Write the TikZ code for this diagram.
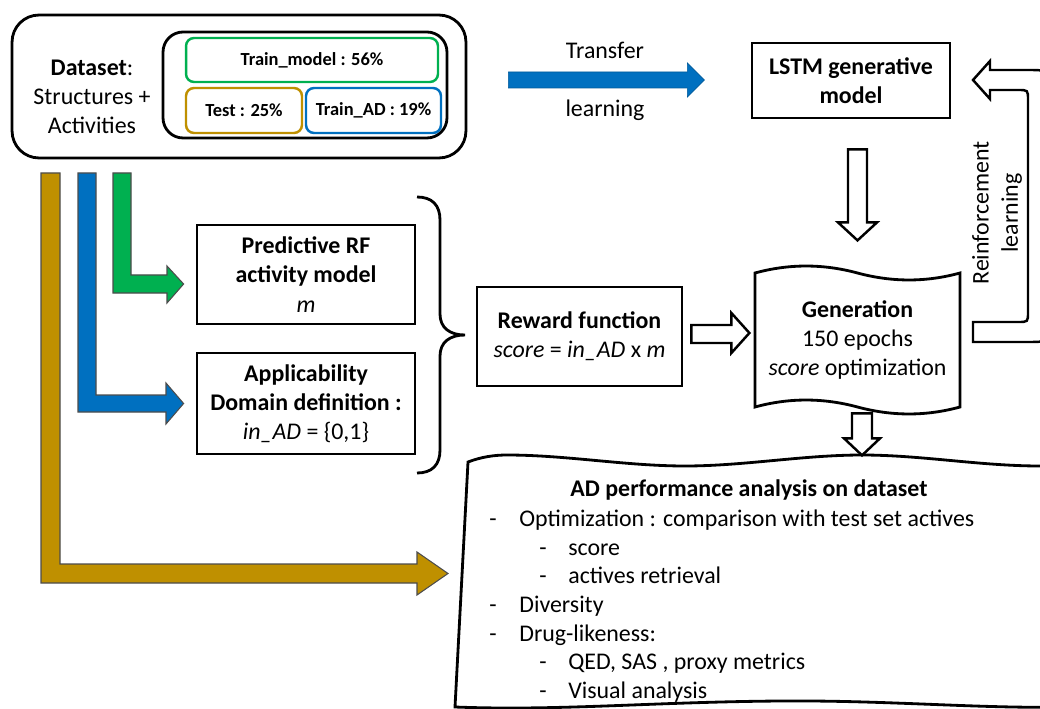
\documentclass[tikz,border=0pt]{standalone}
\usepackage{fontspec}
\setmainfont{Carlito}
\usetikzlibrary{calc}

\definecolor{adgold}{HTML}{BF9000}
\definecolor{adblue}{HTML}{0070C0}
\definecolor{adgreen}{HTML}{00B050}

\newcommand{\topdash}{\makebox[0.6cm][l]{-}}
\newcommand{\subdash}{\hspace*{1cm}\makebox[0.58cm][l]{-}}

\tikzset{
  txt/.style={font=\fontsize{13.6}{16.6}\selectfont, align=center},
  box/.style={draw, line width=1.6pt, inner sep=0pt, txt},
  split/.style={draw=#1, line width=1.4pt, rounded corners=0.16cm, inner sep=0pt,
    font=\fontsize{10.5}{12}\selectfont\bfseries},
  hollow/.style={draw, line width=1.4pt, fill=white},
  band/.style={draw=black!70, line width=0.6pt},
}

\begin{document}
\begin{tikzpicture}[x=0.02cm, y=-0.02cm]
\useasboundingbox (0,0) rectangle (1040,709);
\fill[white] (0,0) rectangle (1040,709);
\clip (0,0) rectangle (1040,709);

% dataset and its splits
\node[box, rounded corners=0.54cm, minimum width=9.08cm, minimum height=2.86cm] (dataset) at (239,86.5) {};
\node[txt] (dslabel) at (92,97) {\textbf{Dataset}:\\Structures +\\Activities};
\node[box, rounded corners=0.4cm, minimum width=5.68cm, minimum height=2.12cm] (splits) at (305,85) {};
\node[split=adgreen, minimum width=5.04cm, minimum height=0.88cm] (trainmodel) at (312,60) {Train\_model : 56\%};
\node[split=adgold, minimum width=2.32cm, minimum height=0.9cm] (testset) at (244,110.5) {Test : 25\%};
\node[split=adblue, minimum width=2.7cm, minimum height=0.9cm] (trainad) at (373.5,110.5) {Train\_AD : 19\%};

% generative model
\node[box, minimum width=3.96cm, minimum height=1.5cm] (lstm) at (851,80.5) {\textbf{LSTM generative}\\\textbf{model}};
\draw[fill=adblue, draw=adblue!80!black, line width=0.4pt] ($(dataset.east)+(41,-14.5)$) -- ++(179,0) -- ++(0,-9)
  -- ++(17,17) -- ++(-17,17) -- ++(0,-9) -- ++(-179,0) -- cycle;
\node[txt] (tl1) at (605,50) {Transfer};
\node[txt] (tl2) at (605,110) {learning};

% scoring
\node[box, minimum width=4.36cm, minimum height=1.98cm] (pred) at (306,274.5) {\textbf{Predictive RF}\\\textbf{activity model}\\\textit{m}};
\node[box, minimum width=4.36cm, minimum height=2.02cm] (app) at (306,403.5) {\textbf{Applicability}\\\textbf{Domain definition :}\\\textit{in\_AD} = \{0,1\}};
\node[box, minimum width=4.1cm, minimum height=1.98cm] (reward) at (579.5,336.5) {\textbf{Reward function}\\\textit{score} = \textit{in\_AD} x \textit{m}};
\draw[line width=1.6pt] (417,197) .. controls (432,197) and (440,205) .. (440,220) -- (440,314)
  .. controls (440,328) and (450,335) .. (465,335) .. controls (450,335) and (440,342) .. (440,356)
  -- (440,450) .. controls (440,465) and (432,473) .. (417,473);

% generation
\node[txt, minimum width=4.1cm, minimum height=2.7cm] (gen) at (857.5,340) {\textbf{Generation}\\150 epochs\\\textit{score} optimization};
\draw[line width=1.6pt] (755,273) .. controls (789,263.7) and (823,263.7) .. (857.5,273)
  .. controls (892,282.3) and (926,282.3) .. (960,273) -- (960,407)
  .. controls (926,416.3) and (892,416.3) .. (857.5,407)
  .. controls (823,397.7) and (789,397.7) .. (755,407) -- cycle;
\draw[hollow] ($(lstm.south)+(-3,30)$) -- ++(19,0) -- ++(0,73) -- ++(10,0) -- ++(-19.5,18)
  -- ++(-19.5,-18) -- ++(10,0) -- cycle;
\draw[hollow] ($(reward.east)+(8,-11.5)$) -- ++(40,0) -- ++(0,-12) -- ++(18,20) -- ++(-18,20)
  -- ++(0,-10) -- ++(-40,0) -- cycle;

% reinforcement loop
\draw[hollow] (973,80) -- (990,61) -- (990,70) -- (1028,70) .. controls (1048,70) .. (1048,90)
  -- (1048,322) .. controls (1048,342) .. (1028,342) -- (973,342) -- (973,322) -- (1018,322)
  .. controls (1028,322) .. (1028,312) -- (1028,100) .. controls (1028,90) .. (1018,90) -- (990,90) -- (990,99) -- cycle;
\node[txt, rotate=90] (rl) at (997,213) {Reinforcement\\learning};

% analysis
\draw[line width=1.6pt, fill=white] (468,462) .. controls (481,457) and (494,455) .. (507,455)
  .. controls (566,455) and (626,466) .. (685,466)
  .. controls (744,466) and (803,455) .. (862,455)
  .. controls (921,455) and (980,466) .. (1040,466)
  .. controls (1070,466) and (1090,462) .. (1100,460)
  -- (1100,706) .. controls (1000,711) and (900,700) .. (780,701)
  .. controls (650,702) and (560,711) .. (455,707) -- cycle;
\draw[hollow] ($(gen.south)+(-5.5,5.5)$) -- ++(20,0) -- ++(0,25) -- ++(8,0) -- ++(-18,17)
  -- ++(-18,-17) -- ++(8,0) -- cycle;
\node[txt] (anahead) at (749,490) {\textbf{AD performance analysis on dataset}};
\node[txt, font=\fontsize{13.6}{16.3}\selectfont, align=left, anchor=west, inner sep=0pt] (analist) at (489,606) {%
  \topdash Optimization : comparison with test set actives\\
  \subdash score\\
  \subdash actives retrieval\\
  \topdash Diversity\\
  \topdash Drug-likeness:\\
  \subdash QED, SAS , proxy metrics\\
  \subdash Visual analysis};
\coordinate (anaside) at (448,573.5);

% dataset splits feeding the models
\draw[band, fill=adgreen] (113,173) -- (113,293) -- (167,293) -- (167,303) -- ($(pred.west)+(-12,9.5)$)
  -- (167,266) -- (167,275) -- (131,275) -- (131,173) -- cycle;
\draw[band, fill=adblue] (78,173) -- (78,412) -- (166,412) -- (166,424) -- ($(app.west)+(-12,0)$)
  -- (166,383) -- (166,395) -- (96,395) -- (96,173) -- cycle;
\draw[band, fill=adgold] (41,173) -- (41,583) -- (417,583) -- (417,595) -- (anaside)
  -- (417,552) -- (417,564) -- (60,564) -- (60,173) -- cycle;
\end{tikzpicture}
\end{document}
